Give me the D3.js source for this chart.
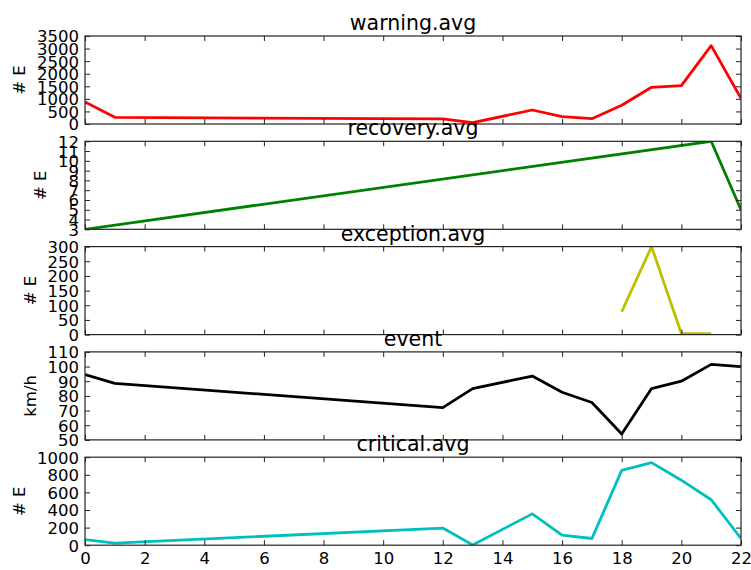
<!DOCTYPE html>
<html>
<head>
<meta charset="utf-8">
<script src="https://cdn.jsdelivr.net/npm/d3@7/dist/d3.min.js"></script>
<style>
  html, body { margin: 0; padding: 0; background: #fff; }
  svg { display: block; }
  text { font-family: "DejaVu Sans", sans-serif; fill: #000; }
</style>
</head>
<body>
<svg id="chart" width="751" height="570"></svg>
<script>
// Hours of the day at which readings exist
const hours = [0, 1, 12, 13, 15, 16, 17, 18, 19, 20, 21, 22];
const warningAvg = [880, 265, 200, 50, 557, 290, 210, 744, 1460, 1525, 3115, 1022];
const recoveryHours = [0, 21, 22];
const recoveryAvg = [3, 12, 5];
const exceptionHours = [18, 19, 20, 21];
const exceptionAvg = [78, 300, 4, 3];
const eventKmh = [94.5, 88.5, 72, 85, 93.5, 82.5, 75.5, 54, 85, 90, 101.5, 100];
const criticalAvg = [64, 23, 195, 3, 356, 115, 76, 850, 938, 739, 517, 76];

const xTicks = [0, 2, 4, 6, 8, 10, 12, 14, 16, 18, 20, 22];

const panels = [
  { title: "warning.avg", ylabel: "# E", xs: hours, ys: warningAvg, color: "#ff0000",
    domain: [0, 3500], ticks: d3.range(0, 3501, 500) },
  { title: "recovery.avg", ylabel: "# E", xs: recoveryHours, ys: recoveryAvg, color: "#008000",
    domain: [3, 12], ticks: d3.range(3, 13, 1) },
  { title: "exception.avg", ylabel: "# E", xs: exceptionHours, ys: exceptionAvg, color: "#bfbf00",
    domain: [0, 300], ticks: d3.range(0, 301, 50) },
  { title: "event", ylabel: "km/h", xs: hours, ys: eventKmh, color: "#000000",
    domain: [50, 110], ticks: d3.range(50, 111, 10) },
  { title: "critical.avg", ylabel: "# E", xs: hours, ys: criticalAvg, color: "#00bfbf",
    domain: [0, 1000], ticks: d3.range(0, 1001, 200) }
];

const svg = d3.select("#chart");
const left = 85, right = 741, top0 = 36, step = 105.3, h = 88;
const tickFont = 16.5, titleFont = 20.5;

const x = d3.scaleLinear().domain([0, 22]).range([left, right]);

const frames = svg.append("g");
const titles = svg.append("g");

panels.forEach((p, i) => {
  const top = top0 + i * step, bottom = top + h;
  const y = d3.scaleLinear().domain(p.domain).range([bottom, top]);
  const g = frames.append("g");

  const clipId = "clip" + i;
  svg.append("clipPath").attr("id", clipId)
    .append("rect").attr("x", left).attr("y", top).attr("width", right - left).attr("height", h);

  // series line
  const line = d3.line().x(d => x(d[0])).y(d => y(d[1]));
  g.append("path")
    .datum(p.xs.map((v, k) => [v, p.ys[k]]))
    .attr("clip-path", `url(#${clipId})`)
    .attr("d", line)
    .attr("fill", "none")
    .attr("stroke", p.color)
    .attr("stroke-width", 2.8)
    .attr("stroke-linejoin", "round");

  const styleAxis = sel => {
    sel.select(".domain").remove();
    sel.selectAll(".tick line").attr("stroke", "#222").attr("stroke-width", 1);
    sel.selectAll(".tick text").style("font-size", tickFont + "px")
      .style("font-family", "DejaVu Sans, sans-serif").attr("fill", "#000");
  };

  // left axis with labels, inward ticks
  const leftAx = g.append("g").attr("transform", `translate(${left},0)`)
    .call(d3.axisLeft(y).tickValues(p.ticks).tickSizeInner(-5).tickSizeOuter(0).tickPadding(6)
      .tickFormat(d3.format("d")))
    .call(styleAxis);
  leftAx.selectAll(".tick text").attr("dy", "0.36em");

  // right axis ticks
  g.append("g").attr("transform", `translate(${right},0)`)
    .call(d3.axisRight(y).tickValues(p.ticks).tickSizeInner(-5).tickSizeOuter(0).tickFormat(""))
    .call(styleAxis);

  // top axis ticks
  g.append("g").attr("transform", `translate(0,${top})`)
    .call(d3.axisTop(x).tickValues(xTicks).tickSizeInner(-5).tickSizeOuter(0).tickFormat(""))
    .call(styleAxis);

  // bottom axis ticks, labelled only on the last panel
  g.append("g").attr("transform", `translate(0,${bottom})`)
    .call(d3.axisBottom(x).tickValues(xTicks).tickSizeInner(-5).tickSizeOuter(0).tickPadding(7)
      .tickFormat(i === panels.length - 1 ? d3.format("d") : ""))
    .call(styleAxis);

  // frame
  g.append("rect")
    .attr("x", left).attr("y", top).attr("width", right - left).attr("height", h)
    .attr("fill", "none").attr("stroke", "#222").attr("stroke-width", 1.2);

  // y label placed beside the widest tick label
  let maxW = 0;
  leftAx.selectAll(".tick text").each(function () { maxW = Math.max(maxW, this.getBBox().width); });
  const labelX = left - 6 - maxW - 12;
  g.append("text")
    .attr("transform", `translate(${labelX},${(top + bottom) / 2}) rotate(-90)`)
    .attr("text-anchor", "middle")
    .style("font-size", tickFont + "px")
    .text(p.ylabel);

  // title
  titles.append("text")
    .attr("x", (left + right) / 2)
    .attr("y", top - 6)
    .attr("text-anchor", "middle")
    .style("font-size", titleFont + "px")
    .text(p.title);
});
</script>
</body>
</html>
